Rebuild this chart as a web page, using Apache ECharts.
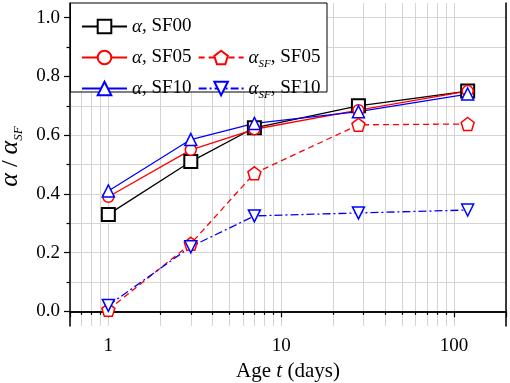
<!DOCTYPE html>
<html>
<head>
<meta charset="utf-8">
<script src="https://cdn.jsdelivr.net/npm/echarts@6/dist/echarts.min.js"></script>
<style>html,body{margin:0;padding:0;background:#fff}#c{width:510px;height:383px}</style>
</head>
<body>
<div id="c"></div>
<script>
var days = [1, 3, 7, 28, 120];
var alphaSF00 = [0.33, 0.51, 0.625, 0.70, 0.75];
var alphaSF05 = [0.39, 0.55, 0.62, 0.685, 0.75];
var alphaSF10 = [0.41, 0.585, 0.64, 0.68, 0.74];
var alphaSFSF05 = [0.005, 0.23, 0.47, 0.635, 0.638];
var alphaSFSF10 = [0.02, 0.22, 0.325, 0.335, 0.345];
var xTickLabels = ['1', '10', '100'];
var yTicks = [0, 0.2, 0.4, 0.6, 0.8, 1.0];

function pairs(ys) { return days.map(function (d, i) { return [d, ys[i]]; }); }

var FONT = 'Liberation Serif';
var pentagon = 'path://M0,-1L0.951,-0.309L0.588,0.809L-0.588,0.809L-0.951,-0.309Z';

function mk(name, ys, color, symbol, size, ltype, rot, bw) {
  return {
    name: name, type: 'line', data: pairs(ys),
    symbol: symbol, symbolSize: size, symbolRotate: rot || 0,
    lineStyle: { color: color, width: 1.3, type: ltype },
    itemStyle: { color: '#fff', borderColor: color, borderWidth: bw || 1.5 },
    emphasis: { disabled: true }
  };
}

var rich = {
  i: { fontFamily: FONT, fontSize: 19, fontStyle: 'italic', lineHeight: 25, color: '#000' },
  n: { fontFamily: FONT, fontSize: 19, lineHeight: 25, color: '#000' },
  s: { fontFamily: FONT, fontSize: 11, fontStyle: 'italic', lineHeight: 14, verticalAlign: 'bottom', color: '#000' }
};
var richName = {
  i: { fontFamily: FONT, fontSize: 21, fontStyle: 'italic', lineHeight: 26, color: '#000' },
  n: { fontFamily: FONT, fontSize: 21, lineHeight: 26, color: '#000' }
};
var richY = {
  a: { fontFamily: FONT, fontSize: 26, fontStyle: 'italic', lineHeight: 30, color: '#000' },
  n: { fontFamily: FONT, fontSize: 24, lineHeight: 30, color: '#000' },
  s: { fontFamily: FONT, fontSize: 13, fontStyle: 'italic', lineHeight: 18, verticalAlign: 'bottom', color: '#000' }
};

var chart = echarts.init(document.getElementById('c'));
chart.setOption({
  animation: false,
  backgroundColor: '#fff',
  grid: { left: 70, right: 4, top: 3, bottom: 57, outerBoundsMode: 'none', containLabel: false },
  graphic: [{
    type: 'rect', z: 3,
    shape: { x: 70.5, y: 3, width: 256.5, height: 89 },
    style: { fill: '#fff', stroke: '#000', lineWidth: 1 }
  }],
  legend: {
    left: 81, top: 14, padding: 0, itemGap: 6, itemWidth: 45, itemHeight: 17, z: 5,
    data: ['α, SF00', '', 'α, SF05', 'αSF, SF05', '\n', 'α, SF10', 'αSF, SF10'],
    textStyle: { fontFamily: FONT, fontSize: 19, lineHeight: 25, color: '#000', rich: rich },
    formatter: function (name) {
      var parts = name.split(', ');
      if (parts[0] === 'αSF') return '{i|α}{s|SF}{n|, ' + parts[1] + '}';
      return '{i|α}{n|, ' + parts[1] + '}';
    }
  },
  xAxis: [{
    type: 'log', logBase: 10, min: 0.6, max: 200,
    name: '{n|Age }{i|t}{n| (days)}', nameLocation: 'middle', nameGap: 31,
    nameTextStyle: { fontFamily: FONT, fontSize: 21, color: '#000', rich: richName },
    axisLine: { show: true, lineStyle: { color: '#000', width: 1.5 } },
    axisTick: { show: true, inside: false, length: 6, lineStyle: { color: '#000', width: 1.2 } },
    minorTick: { show: true, splitNumber: 9, length: 3.5, lineStyle: { color: '#000', width: 1.2 } },
    splitLine: { show: true, lineStyle: { color: '#d4d4d4', width: 1 } },
    minorSplitLine: { show: true, lineStyle: { color: '#d4d4d4', width: 1 } },
    axisLabel: {
      fontFamily: FONT, fontSize: 19, color: '#000', margin: 11,
      showMinLabel: false, showMaxLabel: false,
      formatter: function (v) {
        var k = Math.round(Math.log10(v));
        return Math.abs(Math.log10(v) - k) < 1e-6 && k >= 0 && k < xTickLabels.length ? xTickLabels[k] : '';
      }
    }
  }, {
    type: 'log', logBase: 10, min: 0.6, max: 200, position: 'top',
    axisLine: { show: true, lineStyle: { color: '#000', width: 1.5 } },
    axisTick: { show: false }, axisLabel: { show: false }, splitLine: { show: false }
  }],
  yAxis: [{
    type: 'value', min: -0.05, max: 1.05,
    name: '{a|α}{n| / }{a|α}{s|SF}', nameLocation: 'middle', nameGap: 33,
    nameTextStyle: { fontFamily: FONT, fontSize: 24, color: '#000', rich: richY, padding: [0, 0, 0, 16] },
    axisLine: { show: true, lineStyle: { color: '#000', width: 1.5 } },
    axisTick: { show: true, inside: false, length: 6, customValues: yTicks, lineStyle: { color: '#000', width: 1.2 } },
    minorTick: { show: true, splitNumber: 2, length: 3.5, lineStyle: { color: '#000', width: 1.2 } },
    splitLine: { show: true, lineStyle: { color: '#d4d4d4', width: 1 } },
    minorSplitLine: { show: true, lineStyle: { color: '#d4d4d4', width: 1 } },
    axisLabel: {
      fontFamily: FONT, fontSize: 19, color: '#000', margin: 10,
      customValues: yTicks,
      formatter: function (v) { return v.toFixed(1); }
    }
  }, {
    type: 'value', min: -0.05, max: 1.05, position: 'right',
    axisLine: { show: true, lineStyle: { color: '#000', width: 1.5 } },
    axisTick: { show: false }, axisLabel: { show: false }, splitLine: { show: false }
  }],
  series: [
    mk('α, SF00', alphaSF00, '#000000', 'rect', 13, 'solid', 0, 2),
    mk('α, SF05', alphaSF05, '#ff0000', 'circle', 11, 'solid'),
    mk('α, SF10', alphaSF10, '#0000ff', 'triangle', 12, 'solid'),
    mk('αSF, SF05', alphaSFSF05, '#ff0000', pentagon, 13, [6, 4]),
    mk('αSF, SF10', alphaSFSF10, '#0000ff', 'triangle', 12, [8, 3, 2, 3], 180)
  ]
});
</script>
</body>
</html>
